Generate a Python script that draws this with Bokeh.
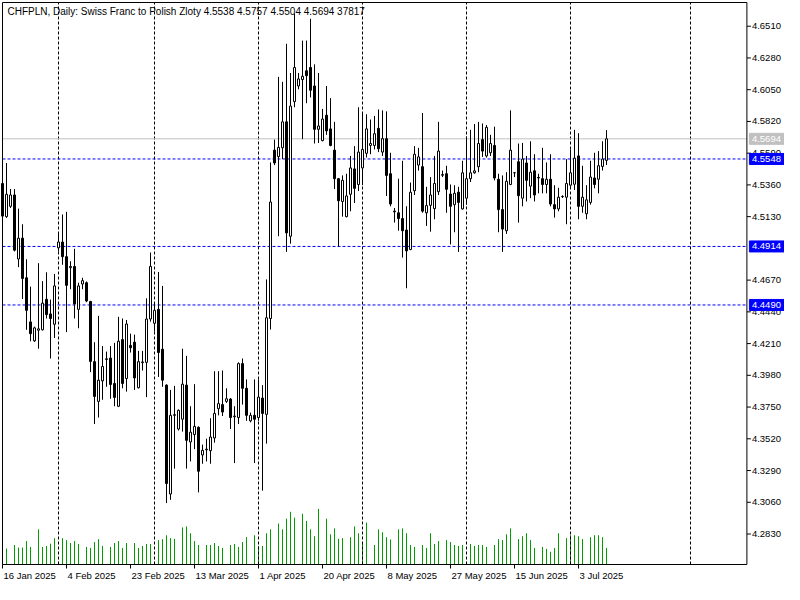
import pandas as pd
from bokeh.plotting import figure
from bokeh.models import Range1d, ColumnDataSource
from bokeh.core.properties import value
from bokeh.embed import file_html
from bokeh.resources import INLINE

# ---------------- data ----------------
title_text = "CHFPLN, Daily:  Swiss Franc to Polish Zloty  4.5538 4.5757 4.5504 4.5694  37817"

opens = [4.5370, 4.5130, 4.5205, 4.5287, 4.4823, 4.4974, 4.4687, 4.4367, 4.4230, 4.4307,
         4.4310, 4.4531, 4.4425, 4.4350, 4.4904, 4.4946, 4.4840, 4.4760, 4.4769, 4.4458,
         4.4642, 4.4651, 4.4515, 4.4079, 4.3791, 4.3940, 4.4095, 4.4105, 4.3921, 4.3756,
         4.4239, 4.3957, 4.4197, 4.4220, 4.3890, 4.4072, 4.4074, 4.4388, 4.4357, 4.4458,
         4.4169, 4.3909, 4.3120, 4.3690, 4.3591, 4.3662, 4.3909, 4.3497, 4.3551, 4.3603,
         4.3403, 4.3440, 4.3434, 4.3526, 4.3738, 4.3768, 4.3791, 4.3808, 4.3680, 4.3674,
         4.4065, 4.3886, 4.3650, 4.3690, 4.3674, 4.3815, 4.3697, 4.4392, 4.5612, 4.5565,
         4.5629, 4.5817, 4.4988, 4.5964, 4.6077, 4.6124, 4.6187, 4.6211, 4.6077, 4.5763,
         4.5681, 4.5865, 4.5766, 4.5612, 4.5405, 4.5240, 4.5130, 4.5292, 4.5476, 4.5363,
         4.5483, 4.5589, 4.5646, 4.5646, 4.5770, 4.5598, 4.5695, 4.5441, 4.5170, 4.5158,
         4.5116, 4.5033, 4.4892, 4.5318, 4.5504, 4.5492, 4.5158, 4.5212, 4.5188, 4.5311,
         4.5430, 4.5441, 4.5294, 4.5217, 4.5307, 4.5186, 4.5264, 4.5405, 4.5448, 4.5492,
         4.5688, 4.5570, 4.5593, 4.5646, 4.5401, 4.5181, 4.5028, 4.5363, 4.5448, 4.5528,
         4.5264, 4.5519, 4.5351, 4.5462, 4.5414, 4.5405, 4.5363, 4.5401, 4.5217, 4.5186,
         4.5275, 4.5271, 4.5358, 4.5365, 4.5570, 4.5205, 4.5151, 4.5233, 4.5410, 4.5401,
         4.5494, 4.5538]
highs = [4.5386, 4.5519, 4.5330, 4.5330, 4.5188, 4.5075, 4.4821, 4.4623, 4.4333, 4.4793,
         4.4663, 4.4727, 4.4529, 4.4715, 4.5005, 4.5146, 4.5165, 4.4807, 4.4897, 4.4651,
         4.4687, 4.4660, 4.4520, 4.4220, 4.4411, 4.4192, 4.4152, 4.4192, 4.4215, 4.4404,
         4.4392, 4.4381, 4.4282, 4.4275, 4.4157, 4.4157, 4.4538, 4.4870, 4.4510, 4.4729,
         4.4628, 4.3915, 4.3874, 4.3904, 4.3733, 4.4173, 4.4121, 4.3756, 4.3916, 4.3610,
         4.3478, 4.3521, 4.3669, 4.4010, 4.4010, 4.4015, 4.3886, 4.3815, 4.3756, 4.4074,
         4.4102, 4.3950, 4.3710, 4.3950, 4.3950, 4.3909, 4.4675, 4.5523, 4.5688, 4.6143,
         4.6107, 4.6383, 4.6171, 4.6602, 4.6171, 4.6406, 4.6406, 4.6564, 4.6234, 4.6171,
         4.5911, 4.6077, 4.5989, 4.5817, 4.5410, 4.5429, 4.5441, 4.5570, 4.5641, 4.5923,
         4.5876, 4.5872, 4.5834, 4.5860, 4.5907, 4.5900, 4.5893, 4.5593, 4.5193, 4.5405,
         4.5535, 4.5205, 4.5377, 4.5641, 4.5629, 4.5881, 4.5346, 4.5417, 4.5570, 4.5817,
         4.5464, 4.5499, 4.5363, 4.5358, 4.5346, 4.5535, 4.5711, 4.5759, 4.5801, 4.5817,
         4.5805, 4.5794, 4.5723, 4.5782, 4.5441, 4.5429, 4.5452, 4.5900, 4.5450, 4.5660,
         4.5664, 4.5570, 4.5676, 4.5582, 4.5441, 4.5629, 4.5523, 4.5582, 4.5358, 4.5339,
         4.5285, 4.5547, 4.5617, 4.5759, 4.5735, 4.5499, 4.5358, 4.5535, 4.5593, 4.5605,
         4.5676, 4.5757]
lows = [4.5118, 4.5121, 4.5193, 4.4878, 4.4764, 4.4533, 4.4310, 4.4227, 4.4222, 4.4173,
        4.4305, 4.4392, 4.4102, 4.4251, 4.4878, 4.4781, 4.4293, 4.4604, 4.4392, 4.4321,
        4.4604, 4.4510, 4.4003, 4.3627, 4.3674, 4.3803, 4.3897, 4.3810, 4.3756, 4.3750,
        4.3886, 4.3862, 4.4145, 4.3874, 4.3885, 4.4015, 4.3822, 4.4369, 4.4298, 4.3968,
        4.3897, 4.3054, 4.3078, 4.3304, 4.3580, 4.3572, 4.3304, 4.3356, 4.3445, 4.3132,
        4.3339, 4.3356, 4.3339, 4.3492, 4.3690, 4.3685, 4.3780, 4.3591, 4.3344, 4.3627,
        4.3768, 4.3650, 4.3639, 4.3344, 4.3650, 4.3144, 4.3485, 4.4312, 4.5504, 4.4988,
        4.5547, 4.4875, 4.4934, 4.5923, 4.6053, 4.5692, 4.5952, 4.5994, 4.5660, 4.5664,
        4.5676, 4.5723, 4.5640, 4.5330, 4.4911, 4.5130, 4.5125, 4.5169, 4.5229, 4.5316,
        4.5358, 4.5558, 4.5582, 4.5617, 4.5598, 4.5570, 4.5280, 4.5205, 4.5087, 4.5028,
        4.4833, 4.4611, 4.4887, 4.5287, 4.5464, 4.5158, 4.5063, 4.5021, 4.5111, 4.5287,
        4.5417, 4.5158, 4.4929, 4.5017, 4.4875, 4.5181, 4.5217, 4.5381, 4.5441, 4.5452,
        4.5563, 4.5558, 4.5570, 4.5393, 4.5017, 4.4875, 4.5005, 4.5358, 4.5417, 4.5087,
        4.5205, 4.5240, 4.5264, 4.5240, 4.5299, 4.5299, 4.5299, 4.5205, 4.5123, 4.5169,
        4.5265, 4.5075, 4.5346, 4.5323, 4.5111, 4.5158, 4.5111, 4.5217, 4.5335, 4.5299,
        4.5464, 4.5504]
closes = [4.5134, 4.5292, 4.5287, 4.4887, 4.4974, 4.4682, 4.4451, 4.4282, 4.4324, 4.4317,
          4.4503, 4.4420, 4.4392, 4.4628, 4.4946, 4.4840, 4.4632, 4.4769, 4.4498, 4.4628,
          4.4666, 4.4519, 4.4081, 4.3827, 4.3945, 4.4044, 4.4100, 4.3914, 4.3820, 4.4227,
          4.3921, 4.4352, 4.4180, 4.3961, 4.4079, 4.4077, 4.4388, 4.4769, 4.4451, 4.4145,
          4.3945, 4.3196, 4.3690, 4.3695, 4.3726, 4.3916, 4.3509, 4.3568, 4.3610, 4.3285,
          4.3436, 4.3445, 4.3533, 4.3704, 4.3775, 4.3714, 4.3810, 4.3674, 4.3685, 4.4065,
          4.3886, 4.3690, 4.3690, 4.3662, 4.3822, 4.3704, 4.4397, 4.5236, 4.5519, 4.5632,
          4.5817, 4.5012, 4.5931, 4.6211, 4.6128, 4.6147, 4.6152, 4.6046, 4.5763, 4.5787,
          4.5837, 4.5752, 4.5646, 4.5405, 4.5245, 4.5393, 4.5280, 4.5483, 4.5335, 4.5598,
          4.5617, 4.5766, 4.5660, 4.5731, 4.5622, 4.5695, 4.5429, 4.5222, 4.5165, 4.5116,
          4.5028, 4.4882, 4.5307, 4.5582, 4.5563, 4.5170, 4.5210, 4.5287, 4.5370, 4.5605,
          4.5435, 4.5328, 4.5205, 4.5299, 4.5233, 4.5448, 4.5405, 4.5448, 4.5462, 4.5660,
          4.5605, 4.5777, 4.5660, 4.5410, 4.5181, 4.5040, 4.5386, 4.5612, 4.5448, 4.5282,
          4.5547, 4.5393, 4.5452, 4.5287, 4.5410, 4.5363, 4.5401, 4.5222, 4.5186, 4.5271,
          4.5276, 4.5370, 4.5448, 4.5554, 4.5205, 4.5271, 4.5252, 4.5417, 4.5363, 4.5499,
          4.5547, 4.5694]
volumes = [36300, 36300, 0, 44490, 38560, 38560, 53390, 40040, 0, 80080,
           40040, 42270, 47460, 60060, 0, 60060, 55610, 48940, 53390, 46710,
           0, 40040, 37820, 51160, 57840, 42270, 0, 40040, 48940, 53390,
           37820, 48940, 0, 48940, 37820, 42270, 46710, 46710, 0, 55610,
           57840, 66740, 60060, 58580, 0, 84530, 86760, 71180, 53390, 44490,
           0, 44490, 44490, 48940, 42270, 37820, 0, 44490, 46710, 40040,
           51160, 62290, 0, 66740, 42270, 42270, 71180, 80080, 0, 93430,
           80080, 104550, 120120, 106780, 0, 115670, 99360, 80080, 64510, 126800,
           0, 104550, 68960, 82310, 58580, 60060, 0, 62290, 86760, 71180,
           49680, 95650, 0, 44490, 80080, 73410, 62290, 57100, 0, 80080,
           82310, 71180, 44490, 40040, 0, 44490, 37820, 71180, 46710, 53390,
           0, 55610, 51160, 44490, 42270, 44490, 0, 46710, 42270, 44490,
           44490, 40040, 0, 44490, 57840, 55610, 68960, 82310, 0, 57840,
           64510, 71180, 55610, 37820, 0, 40040, 35590, 28920, 37820, 71180,
           0, 60060, 66740, 66740, 64510, 57840, 0, 62290, 66740, 66740,
           62290, 37817]

first_date = "2025-01-16"
last_date = "2025-07-11"
future_month_start = "2025-08-01"
price_ticks = [4.2830, 4.3060, 4.3290, 4.3520, 4.3750, 4.3980, 4.4210, 4.4440, 4.4670,
               4.5130, 4.5360, 4.5590, 4.5820, 4.6050, 4.6280, 4.6510]
level_lines = [4.5548, 4.4914, 4.4490]
last_price = 4.5694
date_label_step = 16

# bars exist Sunday..Friday (no Saturday bars)
all_days = pd.date_range(first_date, last_date, freq="D")
dates = [d for d in all_days if d.weekday() != 5]
n = len(opens)
idx = list(range(n))

month_idx = [i for i in range(1, len(dates)) if dates[i].month != dates[i - 1].month]
fut = pd.Timestamp(future_month_start)
month_idx.append(n - 1 + (fut - dates[-1]).days)

label_idx = list(range(0, n, date_label_step))
label_txt = [f"{dates[i].day} {dates[i].strftime('%b %Y')}" for i in label_idx]

# ---------------- layout constants ----------------
FONT = value("Liberation Sans")
W, H = 784, 584                 # canvas
PX_PER_BAR = 4.0
KX = 1.0 / PX_PER_BAR           # bars per pixel
cx0, cx1 = 0.0, 186.1           # chart area in bar units
py0, py1 = 4.2609, 4.6682       # chart area in price units
CH = 562.0                      # chart height px
KY = (py1 - py0) / CH           # price per pixel
TOP_PAD, BOT_PAD = 2.0, 20.0
xs = cx0 - 2.0 * KX
x_range = Range1d(xs, xs + W * KX)
y_range = Range1d(py0 - BOT_PAD * KY, py1 + TOP_PAD * KY)
VMAX = 1.281e6
KV = VMAX / CH

p = figure(width=W, height=H, x_range=x_range, y_range=y_range,
           output_backend="svg", toolbar_location=None, min_border=0,
           x_axis_type=None, y_axis_type=None)
p.background_fill_color = "white"
p.border_fill_color = "white"
p.outline_line_color = None
p.grid.visible = False
p.extra_y_ranges = {"vol": Range1d(-BOT_PAD * KV, VMAX + TOP_PAD * KV)}

# volumes
p.segment(x0=idx, y0=[0] * n, x1=idx, y1=volumes, y_range_name="vol",
          line_color="#009c00", line_width=1)

# month separators
p.segment(x0=month_idx, y0=[py0] * len(month_idx), x1=month_idx, y1=[py1] * len(month_idx),
          line_color="black", line_width=1, line_dash="3 2")

# price level lines
p.segment(x0=[cx0], y0=[last_price], x1=[cx1], y1=[last_price],
          line_color="#c0c0c0", line_width=1)
p.segment(x0=[cx0] * 3, y0=level_lines, x1=[cx1] * 3, y1=level_lines,
          line_color="#0000ff", line_width=1, line_dash="3 2")

# candles
src = ColumnDataSource(dict(
    x=idx, o=opens, h=highs, l=lows, c=closes,
    top=[max(o, c) for o, c in zip(opens, closes)],
    bot=[min(o, c) for o, c in zip(opens, closes)],
    fill=["white" if c >= o else "black" for o, c in zip(opens, closes)],
))
p.segment(x0="x", y0="l", x1="x", y1="h", source=src, line_color="black", line_width=1)
p.vbar(x="x", width=0.5, top="top", bottom="bot", source=src, fill_color="fill",
       line_color="black", line_width=1)

# chart frame
p.quad(left=[cx0], right=[cx1], bottom=[py0], top=[py1], fill_color=None,
       line_color="black", line_width=1)

# right price scale: ticks + labels
nt = len(price_ticks)
p.segment(x0=[cx1] * nt, y0=price_ticks, x1=[cx1 + 4 * KX] * nt, y1=price_ticks,
          line_color="black", line_width=1)
p.text(x=[cx1] * nt, y=price_ticks, text=[f"{t:.4f}" for t in price_ticks],
       x_offset=5, text_align="left", text_baseline="middle", text_font=FONT,
       text_font_size="9.5px", text_color="black")

# price tags
tag_vals = [last_price] + level_lines
tag_cols = ["#c0c0c0"] + ["#0000ff"] * len(level_lines)
p.rect(x=[cx1 + 20 * KX] * len(tag_vals), y=tag_vals, width=35, height=11,
       width_units="screen", height_units="screen", fill_color=tag_cols,
       line_color=tag_cols)
p.text(x=[cx1] * len(tag_vals), y=tag_vals, text=[f"{v:.4f}" for v in tag_vals],
       x_offset=5, text_align="left", text_baseline="middle", text_font=FONT,
       text_font_size="9.5px", text_color="white")

# bottom date scale: ticks + labels
nl = len(label_idx)
p.segment(x0=label_idx, y0=[py0] * nl, x1=label_idx, y1=[py0 - 4 * KY] * nl,
          line_color="black", line_width=1)
p.text(x=label_idx, y=[py0] * nl, text=label_txt, x_offset=1, y_offset=5,
       text_align="left", text_baseline="top", text_font=FONT,
       text_font_size="9.5px", text_color="black")

# title
p.text(x=[cx0], y=[py1], text=[title_text], x_offset=5, y_offset=3,
       text_align="left", text_baseline="top", text_font=FONT,
       text_font_size="10px", text_color="black")

open("out.html", "w").write(file_html(p, INLINE))
